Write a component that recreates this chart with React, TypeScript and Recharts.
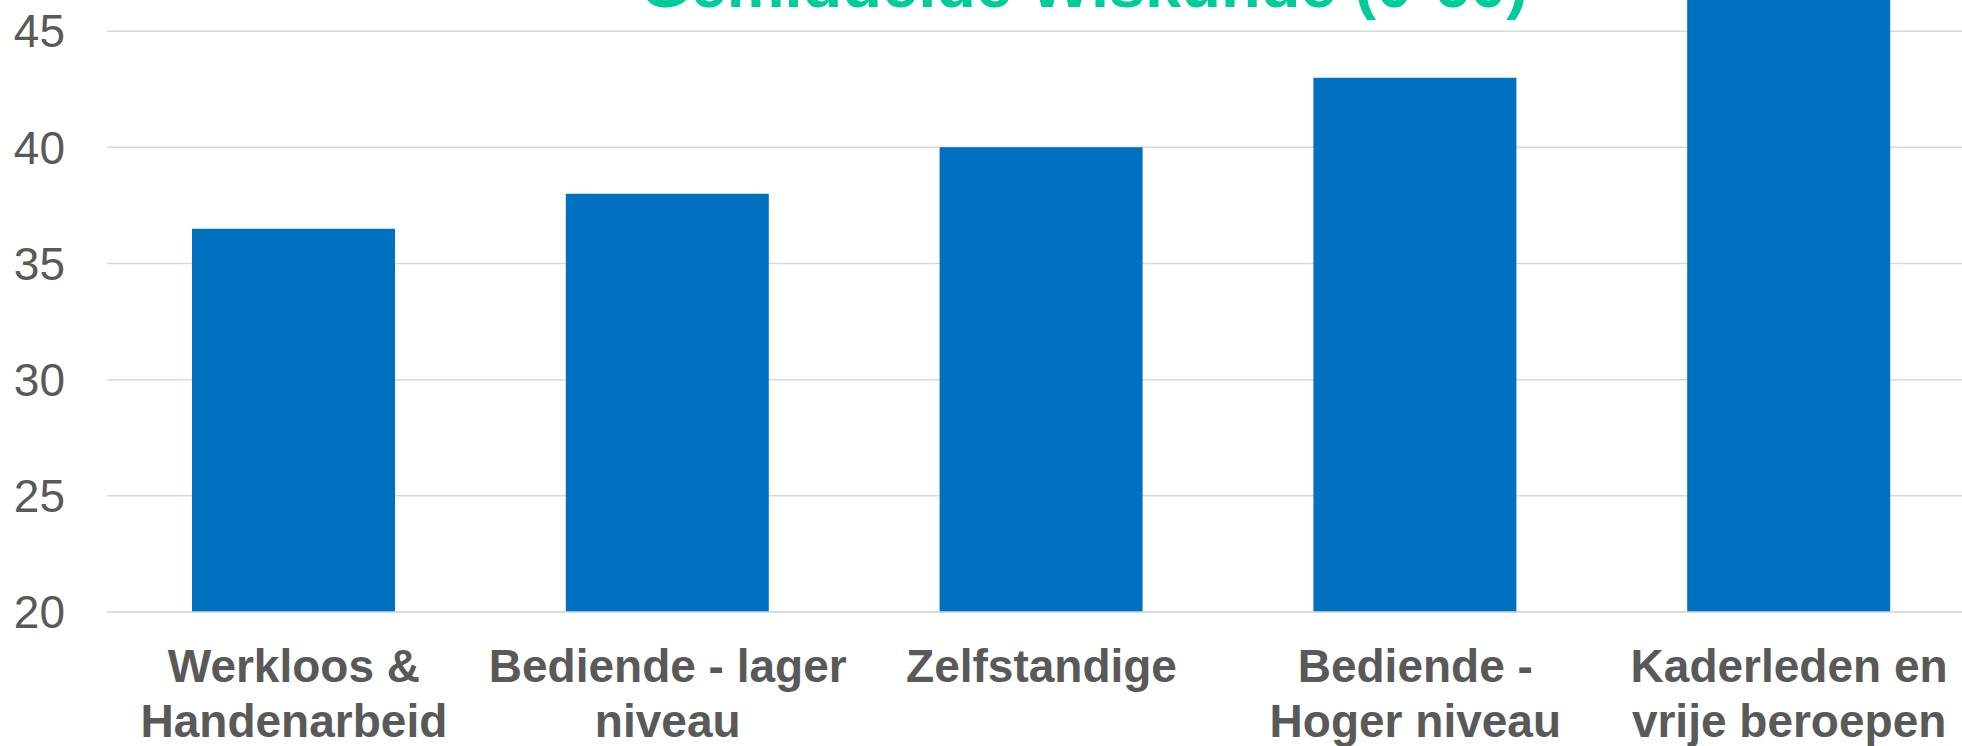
import { BarChart, Bar, XAxis, YAxis, CartesianGrid } from "recharts";

const categories = [
  "Werkloos & Handenarbeid",
  "Bediende - lager niveau",
  "Zelfstandige",
  "Bediende - Hoger niveau",
  "Kaderleden en vrije beroepen",
];
const tickLines = [
  ["Werkloos &", "Handenarbeid"],
  ["Bediende - lager", "niveau"],
  ["Zelfstandige"],
  ["Bediende -", "Hoger niveau"],
  ["Kaderleden en", "vrije beroepen"],
];
const values = [36.5, 38, 40, 43, 47];
const yTicks = [20, 25, 30, 35, 40, 45, 50];
const title = "Gemiddelde Wiskunde (0-60)";

const data = categories.map((name, i) => ({ name, value: values[i] }));

const FONT = '"Liberation Sans", Arial, sans-serif';
const GRAY = "#595959";

function CategoryTick({ x, y, index }: any) {
  const lines = tickLines[index] || [];
  return (
    <g transform={`translate(${x},${y})`}>
      {lines.map((line, i) => (
        <text
          key={i}
          x={0}
          y={70 + i * 55}
          textAnchor="middle"
          fill={GRAY}
          fontFamily={FONT}
          fontSize={46}
          fontWeight="bold"
        >
          {line}
        </text>
      ))}
    </g>
  );
}

if (typeof document !== "undefined") document.body.style.margin = "0";

export default function App() {
  return (
    <div
      style={{
        position: "relative",
        width: 1962,
        height: 746,
        overflow: "hidden",
        background: "#fff",
      }}
    >
      <div style={{ position: "absolute", left: 0, top: -100 }}>
        <BarChart
          width={2000}
          height={846}
          data={data}
          margin={{ top: 15, right: 24, left: 0, bottom: 0 }}
        >
          <CartesianGrid vertical={false} stroke="#D9D9D9" strokeWidth={1.5} />
          <XAxis
            dataKey="name"
            height={134}
            interval={0}
            tickLine={false}
            tickSize={0}
            tickMargin={0}
            axisLine={{ stroke: "#D9D9D9", strokeWidth: 1.5 }}
            tick={<CategoryTick />}
          />
          <YAxis
            width={107}
            domain={[20, 50]}
            ticks={yTicks}
            interval={0}
            axisLine={false}
            tickLine={false}
            tickSize={0}
            tickMargin={42}
            tick={{ fill: GRAY, fontSize: 46, fontFamily: FONT }}
          />
          <Bar dataKey="value" fill="#0070C0" barSize={203} isAnimationActive={false} />
        </BarChart>
      </div>
      <svg
        width={1962}
        height={746}
        style={{ position: "absolute", left: 0, top: 0, pointerEvents: "none" }}
      >
        <text
          x={1084}
          y={7}
          textAnchor="middle"
          fill="#00CC99"
          fontFamily={FONT}
          fontSize={65}
          fontWeight="bold"
        >
          {title}
        </text>
      </svg>
    </div>
  );
}
